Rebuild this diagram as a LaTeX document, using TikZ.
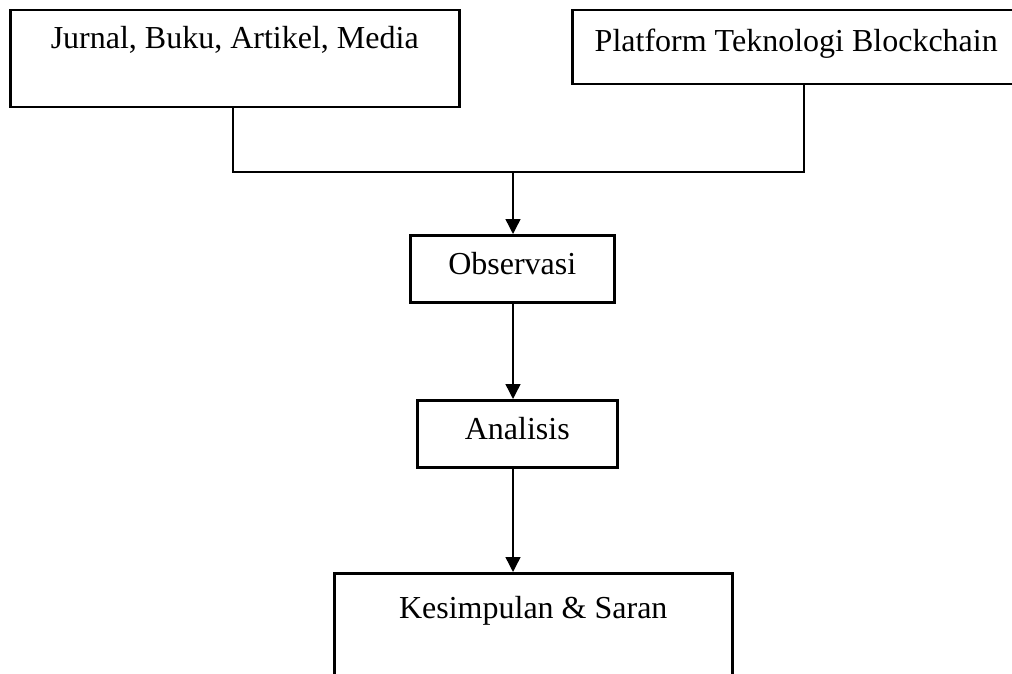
\documentclass[tikz,border=0pt]{standalone}
\usepackage{fontspec}
\setmainfont{Liberation Serif}
\usetikzlibrary{arrows.meta}

\tikzset{
    box/.style={draw, line width=2.5pt, inner sep=0pt, anchor=north west,
        font=\fontsize{32}{38}\selectfont},
    link/.style={line width=1.4pt},
    arrowlink/.style={link, -{Triangle[length=15pt,width=15pt]}}
}

\begin{document}
\begin{tikzpicture}[x=1pt,y=-1pt]

\useasboundingbox (0,0) rectangle (1012,674);

% Sources
\node[box,
    minimum width=449pt,
    text height=38pt,
    text depth=59pt] (sources) at (9,9) {Jurnal, Buku, Artikel, Media};

\node[box,
    minimum width=448pt,
    text height=41pt,
    text depth=33pt] (platform) at (571,9) {Platform Teknologi Blockchain};

% Steps
\node[box,
    minimum width=204pt,
    text height=39pt,
    text depth=28pt] (observasi) at (409,234) {Observasi};

\node[box,
    minimum width=200pt,
    text height=39pt,
    text depth=28pt] (analisis) at (416,399) {Analisis};

\node[box,
    minimum width=398pt,
    text height=45pt,
    text depth=70pt] (kesimpulan) at (333,572) {Kesimpulan \& Saran};

% Join line
\coordinate (joinL) at (233,172);
\coordinate (joinR) at (804,172);
\coordinate (joinM) at (513,172);

\draw[link] (sources.south -| joinL) -- (joinL) -- (joinR) -- (platform.south -| joinR);

% Arrows
\draw[arrowlink] (joinM) -- (joinM |- observasi.north);
\draw[arrowlink] (joinM |- observasi.south) -- (joinM |- analisis.north);
\draw[arrowlink] (joinM |- analisis.south) -- (joinM |- kesimpulan.north);

\end{tikzpicture}
\end{document}
